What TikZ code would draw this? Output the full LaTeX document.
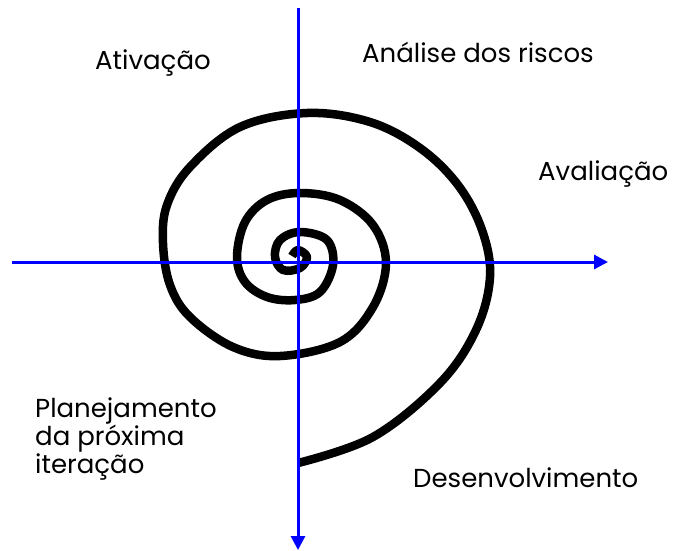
\documentclass[tikz,border=0pt]{standalone}
\usepackage{fontspec}
\setmainfont{Poppins}
\usetikzlibrary{arrows.meta}
\begin{document}
\begin{tikzpicture}[x=1pt,y=-1pt,
  axis/.style={draw=blue,line width=3pt,-{Triangle[length=14pt,width=14pt]}},
  spiralline/.style={draw=black,line width=8.5pt,line cap=butt,line join=round},
  lbl/.style={font=\fontsize{26}{28}\selectfont,inner sep=0pt,anchor=base west,align=left}]
\useasboundingbox (0,0) rectangle (674,550);
\coordinate (vtop) at (298,8);
\coordinate (vbot) at (298,550);
\coordinate (hl) at (12,262);
\coordinate (hr) at (608,262);
\draw[spiralline] plot[smooth,tension=0.6] coordinates {
(298,463) (373,437) (440,383) (476,330) (490,277) (482,230) (458,185) (420,148) (370,122) (307,113) (240,127) (190,167) (167,205) (163,243) (170,285) (190,317) (233,347) (280,356) (340,342) (373,307) (386,263) (373,225) (340,200) (300,193) (267,200) (245,222) (237,257) (245,282) (267,297) (295,300) (320,292) (333,265) (327,240) (300,232) (280,240) (275,257) (283,270) (300,268) (307,257) (298,250) (292,256)};
\draw[axis] (vtop) -- (vbot);
\draw[axis] (hl) -- (hr);
\node[lbl] (ativ) at (95,69) {Ativação};
\node[lbl] (anal) at (362,62) {Análise dos riscos};
\node[lbl] (aval) at (538,180) {Avaliação};
\node[lbl] (plan) at (35,473) {Planejamento\\da próxima\\iteração};
\node[lbl] (desv) at (413,487) {Desenvolvimento};
\end{tikzpicture}
\end{document}
